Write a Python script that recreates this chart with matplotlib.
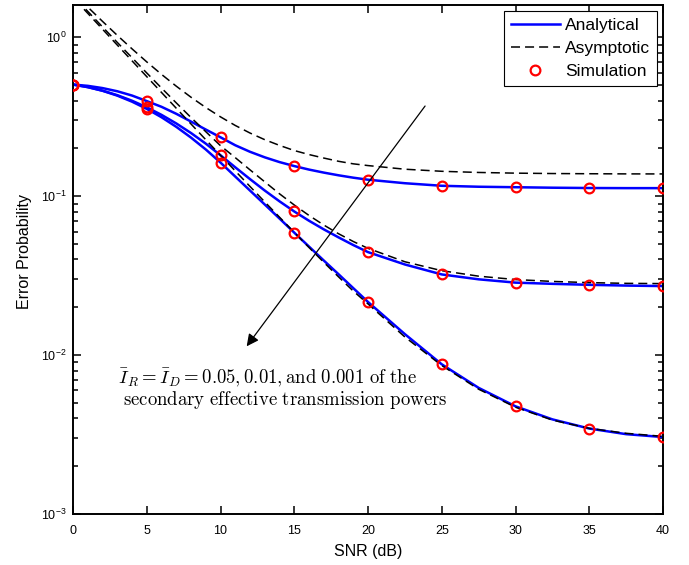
import matplotlib
matplotlib.use("Agg")
import matplotlib.pyplot as plt
from matplotlib.lines import Line2D

plt.rcParams['font.family'] = ['Liberation Sans', 'DejaVu Sans']
plt.rcParams['mathtext.fontset'] = 'cm'

# SNR grid (dB) for the curves and for the simulation points
snr_curve = [0, 1, 2, 3, 4, 5, 6, 7, 8, 9, 10, 11, 12, 13, 14, 15, 16, 17, 18, 19, 20,
             22.5, 25, 27.5, 30, 32.5, 35, 37.5, 40]
snr_sim = [0, 5, 10, 15, 20, 25, 30, 35, 40]

# Analytical curves (I_R = I_D = 0.05, 0.01, 0.001)
ana_005 = [0.5047, 0.4955, 0.4797, 0.4581, 0.4305, 0.3972, 0.3656, 0.3304, 0.2951, 0.2630,
           0.2350, 0.2094, 0.1905, 0.1758, 0.1641, 0.1549, 0.1472, 0.1409, 0.1355, 0.1309,
           0.1271, 0.1208, 0.1164, 0.1148, 0.1140, 0.1132, 0.1127, 0.1125, 0.1125]
ana_001 = [0.5047, 0.4864, 0.4622, 0.4329, 0.3993, 0.3631, 0.3253, 0.2873, 0.2500, 0.2144,
           0.1811, 0.1521, 0.1282, 0.1086, 0.0929, 0.0802, 0.0701, 0.0619, 0.0551, 0.0493,
           0.0445, 0.0372, 0.0322, 0.0300, 0.0286, 0.0281, 0.0277, 0.0274, 0.0272]
ana_0001 = [0.5047, 0.4865, 0.4613, 0.4300, 0.3939, 0.3548, 0.3143, 0.2735, 0.2340, 0.1970,
            0.1629, 0.1330, 0.1086, 0.0887, 0.0724, 0.0590, 0.0482, 0.0394, 0.0323, 0.0264,
            0.0216, 0.01355, 0.00875, 0.00622, 0.00476, 0.00394, 0.00345, 0.00318, 0.00305]

# Asymptotic curves
asy_005 = [1.918, 1.552, 1.261, 1.030, 0.847, 0.701, 0.585, 0.493, 0.420, 0.362,
           0.316, 0.279, 0.250, 0.227, 0.209, 0.194, 0.183, 0.174, 0.166, 0.160,
           0.156, 0.148, 0.1436, 0.1412, 0.1398, 0.1390, 0.1386, 0.1383, 0.1382]
asy_001 = [1.828, 1.458, 1.164, 0.930, 0.745, 0.597, 0.480, 0.387, 0.313, 0.255,
           0.208, 0.175, 0.1466, 0.1232, 0.1036, 0.0881, 0.0757, 0.0659, 0.0581, 0.0519,
           0.0470, 0.0387, 0.0340, 0.0314, 0.0299, 0.0291, 0.0286, 0.0283, 0.0282]
asy_0001 = [1.783, 1.417, 1.126, 0.895, 0.712, 0.566, 0.450, 0.358, 0.285, 0.227,
            0.181, 0.1443, 0.1152, 0.0921, 0.0738, 0.0592, 0.0476, 0.0384, 0.0311, 0.0253,
            0.0210, 0.0130, 0.0086, 0.0061, 0.0047, 0.0039, 0.00346, 0.00322, 0.00308]

# Simulation points
sim_005 = [0.505, 0.397, 0.235, 0.155, 0.127, 0.1164, 0.114, 0.1125, 0.1124]
sim_001 = [0.505, 0.363, 0.181, 0.0802, 0.0445, 0.0322, 0.0286, 0.0277, 0.0272]
sim_0001 = [0.505, 0.355, 0.163, 0.059, 0.0216, 0.00875, 0.00476, 0.00345, 0.00305]

fig = plt.figure(figsize=(6.89, 5.65), dpi=100)
ax = fig.add_axes([0.1060, 0.0903, 0.8563, 0.9009])

for y in (ana_005, ana_001, ana_0001):
    ax.plot(snr_curve, y, color='#0000ff', lw=1.8, zorder=2)
for y in (asy_005, asy_001, asy_0001):
    ax.plot(snr_curve, y, color='black', lw=1.1, dashes=(5.9, 3.3), zorder=3)
for y in (sim_005, sim_001, sim_0001):
    ax.plot(snr_sim, y, ls='none', marker='o', ms=7, mfc='none', mec='#ff0000', mew=1.6, zorder=4)

ax.set_yscale('log')
ax.set_xlim(0, 40)
ax.set_ylim(1e-3, 1.6)
ax.set_xticks([0, 5, 10, 15, 20, 25, 30, 35, 40])
ax.tick_params(which='both', direction='in', top=True, right=True, labelsize=9, width=1.1)
ax.tick_params(which='major', length=6)
ax.tick_params(which='minor', length=3.5)
ax.tick_params(axis='x', which='major', pad=8)
ax.tick_params(axis='y', which='major', pad=4.5)
for s in ax.spines.values():
    s.set_linewidth(1.4)
ax.set_xlabel('SNR (dB)', fontsize=11.5, labelpad=5)
ax.set_ylabel('Error Probability', fontsize=11.5)
ax.yaxis.set_label_coords(-0.069, 0.515)

ax.annotate('', xy=(11.66, 0.011), xytext=(23.98, 0.382),
            arrowprops=dict(arrowstyle='-|>', color='black', lw=0.9, mutation_scale=18), zorder=5)

ax.text(3.05, 0.00715, r'$\bar{I}_R=\bar{I}_D=0.05, 0.01, \mathrm{and\ 0.001\ of\ the}$',
        fontsize=13.5, ha='left', va='center')
ax.text(3.39, 0.0052, r'$\mathrm{secondary\ effective\ transmission\ powers}$',
        fontsize=13.5, ha='left', va='center')

handles = [Line2D([], [], color='#0000ff', lw=1.8),
           Line2D([], [], color='black', lw=1.1, dashes=(5.9, 3.3)),
           Line2D([], [], ls='none', marker='o', ms=7, mfc='none', mec='#ff0000', mew=1.6)]
leg = ax.legend(handles, ['Analytical', 'Asymptotic', 'Simulation'], loc='upper right',
                fontsize=12.5, fancybox=False, framealpha=1, edgecolor='black',
                handlelength=2.8, handletextpad=0.3, labelspacing=0.45,
                borderpad=0.4, borderaxespad=0.35)
leg.get_frame().set_linewidth(0.8)

fig.savefig('out.png', dpi=100)
